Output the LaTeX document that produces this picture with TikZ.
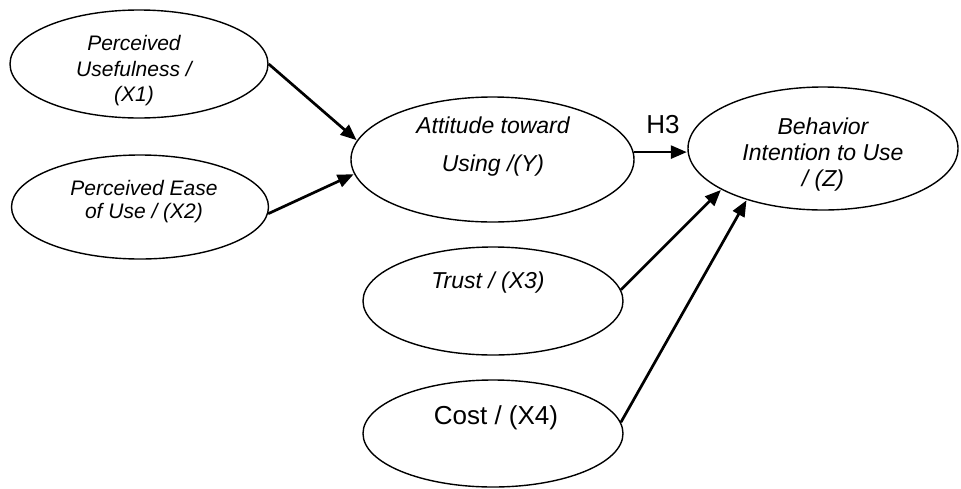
\documentclass[tikz,border=0pt]{standalone}
\usepackage{fontspec}
\setmainfont{Liberation Sans}
\usetikzlibrary{shapes.geometric,arrows.meta}
\tikzset{
  oval/.style={draw=black, ellipse, line width=1.4pt, inner sep=0pt, fill=white},
  lbl/.style={align=center, inner sep=0pt, text=black},
  arr/.style={line width=2.7pt, -{Triangle[length=16pt,width=13pt]}, shorten >=0.5pt}
}
\begin{document}
\begin{tikzpicture}[x=1pt,y=-1pt]
\useasboundingbox[fill=white] (0,0) rectangle (961,488);
% ellipses
\node[oval, minimum width=258pt, minimum height=108pt] (x1) at (139,64) {};
\node[oval, minimum width=257pt, minimum height=104pt] (x2) at (140,207) {};
\node[oval, minimum width=283pt, minimum height=125pt] (y) at (492.5,159.5) {};
\node[oval, minimum width=270pt, minimum height=123pt] (z) at (823,148.5) {};
\node[oval, minimum width=260pt, minimum height=108pt] (x3) at (493,301) {};
\node[oval, minimum width=260pt, minimum height=107pt] (x4) at (493,433.5) {};
% texts
\node[lbl, font=\fontsize{21}{25.5}\selectfont\itshape] (x1t) at (134,71) {Perceived\\Usefulness /\\(X1)};
\node[lbl, font=\fontsize{21}{23}\selectfont\itshape] (x2t) at (144,202) {Perceived Ease\\of Use / (X2)};
\node[lbl, font=\fontsize{23}{28}\selectfont\itshape] (yt) at (493,147) {Attitude toward\\[10pt]Using /(Y)};
\node[lbl, font=\fontsize{23}{26}\selectfont\itshape] (zt) at (823,155) {Behavior\\Intention to Use\\/ (Z)};
\node[lbl, font=\fontsize{23}{26}\selectfont\itshape] (x3t) at (488,283) {Trust / (X3)};
\node[lbl, font=\fontsize{26}{30}\selectfont] (x4t) at (496,418) {Cost / (X4)};
\node[lbl, font=\fontsize{26}{30}\selectfont] (h3) at (663,125) {H3};
% connectors
\draw[arr] (x1.east) -- (y.172);
\draw[arr] (x2.-3) -- (y.186);
\draw[arr] (y.3) -- (z.west |- y.3);
\draw[arr] (x3.5) -- (z.202);
\draw[arr] (x4.5) -- (z.214);
\end{tikzpicture}
\end{document}
